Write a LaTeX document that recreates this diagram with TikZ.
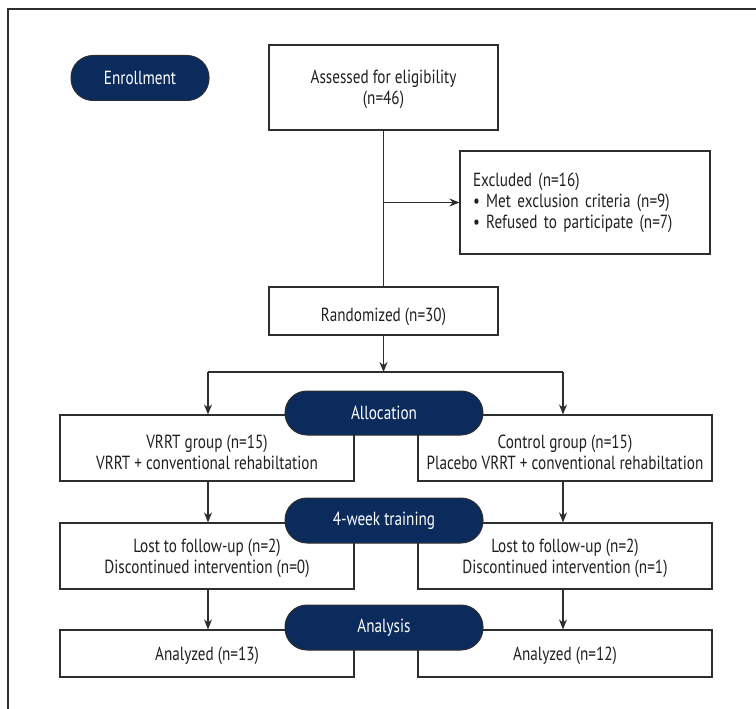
\documentclass[tikz,border=0pt]{standalone}
\usepackage{fontspec}
\setmainfont{PT Sans}[FakeStretch=0.8]
\usepackage{xcolor}
\usepackage{tikz}
\usetikzlibrary{positioning,arrows.meta,calc}
\definecolor{PhaseNavy}{HTML}{0A2B5C}
\definecolor{LineDark}{HTML}{2E2E2E}
\definecolor{TextDark}{HTML}{231F20}
\tikzset{
  flowbox/.style={draw=LineDark, line width=1.2pt, fill=white, align=center,
    text=TextDark, inner sep=0pt, text depth=0pt},
  phase/.style={draw=LineDark, line width=1pt, fill=PhaseNavy, text=white,
    rounded corners=22pt, minimum width=198pt, minimum height=44pt, inner sep=0pt},
  flow/.style={draw=LineDark, line width=1.2pt},
  arr/.style={flow, -{Stealth[length=10pt,width=8pt]}}
}

\begin{document}
\begin{tikzpicture}[x=1pt, y=-1pt, font=\fontsize{19}{21}\selectfont]
        \useasboundingbox (0,0) rectangle (756,709);
        \draw[LineDark, line width=1.5pt] (756,9) -- (8,9) -- (8,709);

        \node[phase, minimum width=138pt, minimum height=45pt] (enroll) at (140,78) {Enrollment};
        \node[flowbox, minimum width=229pt, minimum height=85pt] (assessed) at (383.5,87.5)
        {Assessed for eligibility\\(n=46)};
        \node[flowbox, text depth=, align=left, text width=224pt, inner xsep=13pt, minimum height=103pt]
        (excluded) at (585,202.5)
        {Excluded (n=16)\\\textbullet\ Met exclusion criteria (n=9)\\\textbullet\ Refused to participate (n=7)};
        \node[flowbox, text height=21pt, minimum width=229pt, minimum height=48pt] (random) at (383.5,311)
        {Randomized (n=30)};

        \node[flowbox, text height=43pt, minimum width=294pt, minimum height=66pt] (vrrt) at (207,448)
        {VRRT group (n=15)\\VRRT + conventional rehabiltation};
        \node[flowbox, text height=43pt, minimum width=294pt, minimum height=66pt] (control) at (565,448)
        {Control group (n=15)\\Placebo VRRT + conventional rehabiltation};
        \node[flowbox, minimum width=294pt, minimum height=66pt] (lostA) at (207,556)
        {Lost to follow-up (n=2)\\Discontinued intervention (n=0)};
        \node[flowbox, minimum width=294pt, minimum height=66pt] (lostB) at (565,556)
        {Lost to follow-up (n=2)\\Discontinued intervention (n=1)};
        \node[flowbox, minimum width=294pt, minimum height=47pt] (anaA) at (207,653.5) {Analyzed (n=13)};
        \node[flowbox, minimum width=294pt, minimum height=47pt] (anaB) at (565,653.5) {Analyzed (n=12)};

        \node[phase] (alloc) at (384,413) {Allocation};
        \node[phase, minimum height=45pt] (train) at (384,520.5) {4-week training};
        \node[phase, minimum height=45pt] (analysis) at (384,627.5) {Analysis};

        \coordinate (split) at (assessed.south |- excluded.west);
        \coordinate (fork) at (random.south |- 0,372);
        \coordinate (forkA) at ([xshift=1pt]vrrt.north |- fork);
        \coordinate (forkB) at ([xshift=-2pt]control.north |- fork);

        \draw[flow] (assessed.south) -- (random.north);
        \draw[arr] (split) -- (excluded.west);
        \draw[arr] (random.south) -- (fork);
        \draw[flow] (forkA) -- (forkB);
        \draw[arr] (forkA) -- (forkA |- vrrt.north);
        \draw[arr] (forkB) -- (forkB |- control.north);
        \draw[arr] ([xshift=1pt]vrrt.south) -- ([xshift=1pt]lostA.north);
        \draw[arr] ([xshift=-2pt]control.south) -- ([xshift=-2pt]lostB.north);
        \draw[arr] ([xshift=1pt]lostA.south) -- ([xshift=1pt]anaA.north);
        \draw[arr] ([xshift=-2pt]lostB.south) -- ([xshift=-2pt]anaB.north);
      \end{tikzpicture}
\end{document}
